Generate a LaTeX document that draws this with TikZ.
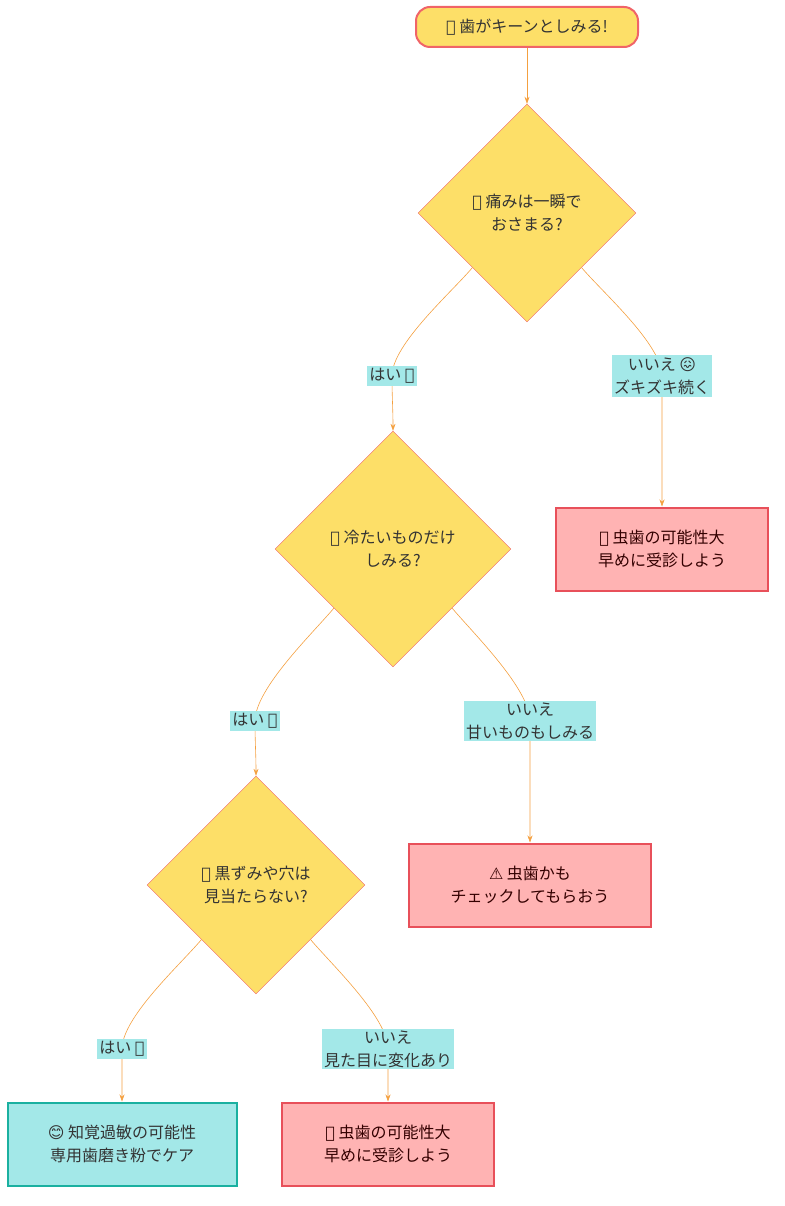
\documentclass[tikz,border=0pt]{standalone}
\usepackage{fontspec}
\setmainfont{Noto Sans CJK JP}
\newfontfamily\emo{DejaVu Sans}
\usetikzlibrary{shapes.geometric,arrows.meta}
\definecolor{yel}{HTML}{FDDF68}
\definecolor{redl}{HTML}{F06468}
\definecolor{pinkf}{HTML}{FFB3B3}
\definecolor{pinkd}{HTML}{E8505A}
\definecolor{cyanf}{HTML}{A3E8E8}
\definecolor{teald}{HTML}{1AB0A0}
\definecolor{orng}{HTML}{F4A040}
\definecolor{txt}{HTML}{333333}
\tikzset{
	every node/.style={font=\fontsize{16}{23}\selectfont,text=txt,align=center},
	start/.style={draw=redl,line width=2pt,fill=yel,rounded corners=14pt,minimum width=222pt,minimum height=40pt},
	dec/.style={draw=redl,line width=0.4pt,fill=yel,diamond,minimum width=218pt,minimum height=218pt,inner sep=0pt},
	bad/.style={draw=pinkd,line width=2pt,fill=pinkf,text=black!80!red,minimum width=212pt,minimum height=83pt},
	good/.style={draw=teald,line width=2pt,fill=cyanf,minimum width=229pt,minimum height=83pt},
	lbl/.style={fill=cyanf,inner sep=2pt},
	edge/.style={draw=orng,line width=0.6pt,-{Stealth[length=7pt,width=5pt]}}
}
\begin{document}
\begin{tikzpicture}[x=1pt,y=-1pt]
	\useasboundingbox (0,0) rectangle (784,1206);
	\node[start] (s) at (527,27) {{\emo 🦷} 歯がキーンとしみる!};
	\node[dec] (d1) at (527,213) {{\emo ⏱️} 痛みは一瞬で\\おさまる?};
	\node[dec,minimum width=236pt,minimum height=236pt] (d2) at (393,549) {{\emo 🍧} 冷たいものだけ\\しみる?};
	\node[dec] (d3) at (256,885) {{\emo 👀} 黒ずみや穴は\\見当たらない?};
	\node[bad] (r1) at (662,549) {{\emo 🚨} 虫歯の可能性大\\早めに受診しよう};
	\node[bad,minimum width=242pt] (r2) at (530,885) {{\emo ⚠️} 虫歯かも\\チェックしてもらおう};
	\node[good] (g) at (122,1144) {{\emo 😊} 知覚過敏の可能性\\専用歯磨き粉でケア};
	\node[bad] (r3) at (388,1144) {{\emo 🚨} 虫歯の可能性大\\早めに受診しよう};
	% edges
	\draw[edge] (s) -- (d1);
	\draw[edge] (d1.south west) to[out=-130,in=90,looseness=0.6] (392,376) to[out=-90,in=90] (d2.north);
	\draw[edge] (d1.south east) to[out=-50,in=90,looseness=0.6] (662,376) to[out=-90,in=90] (r1.north);
	\draw[edge] (d2.south west) to[out=-130,in=90,looseness=0.6] (255,721) to[out=-90,in=90] (d3.north);
	\draw[edge] (d2.south east) to[out=-50,in=90,looseness=0.6] (530,721) to[out=-90,in=90] (r2.north);
	\draw[edge] (d3.south west) to[out=-130,in=90,looseness=0.6] (122,1049) to[out=-90,in=90] (g.north);
	\draw[edge] (d3.south east) to[out=-50,in=90,looseness=0.6] (388,1049) to[out=-90,in=90] (r3.north);
	% labels
	\node[lbl] (l1) at (392,376) {はい {\emo ✨}};
	\node[lbl] (l2) at (662,376) {いいえ {\emo 😖}\\ズキズキ続く};
	\node[lbl] (l3) at (255,721) {はい {\emo 👍}};
	\node[lbl] (l4) at (530,721) {いいえ\\甘いものもしみる};
	\node[lbl] (l5) at (122,1049) {はい {\emo ✅}};
	\node[lbl] (l6) at (388,1049) {いいえ\\見た目に変化あり};
\end{tikzpicture}
\end{document}
